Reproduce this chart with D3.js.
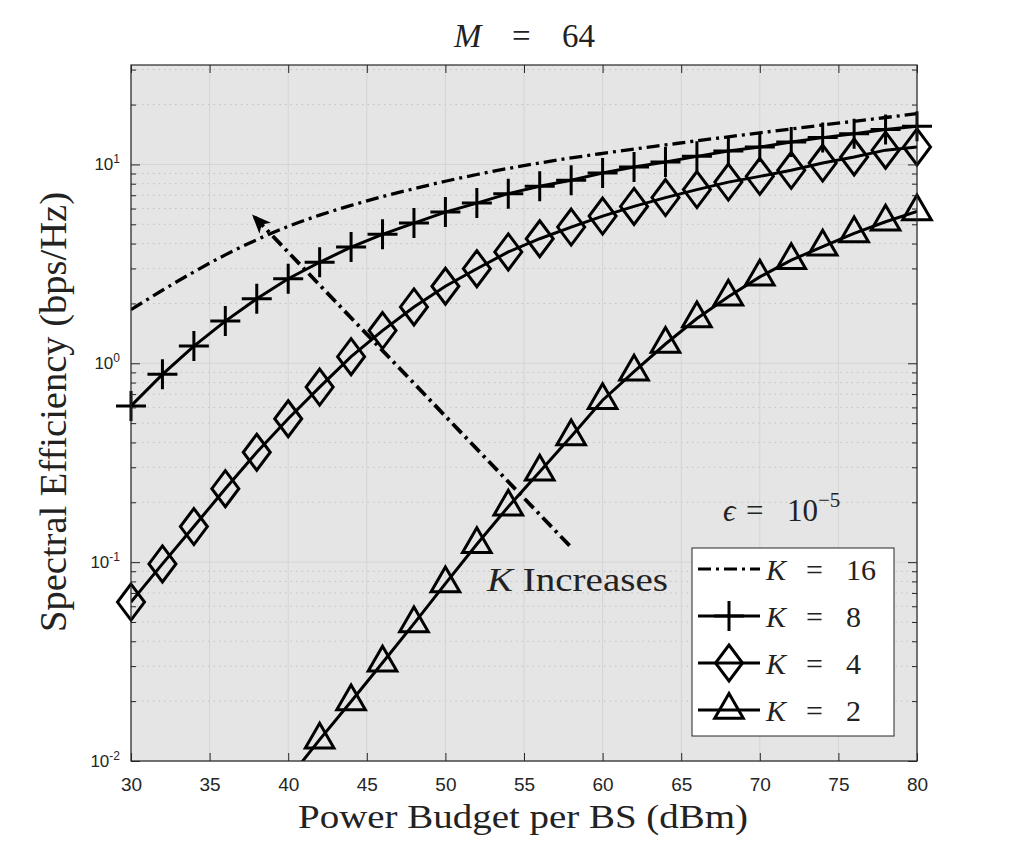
<html>
<head>
    <script src="https://cdn.jsdelivr.net/npm/d3@7"></script>
    <style>
        body { margin: 0; background: white; }
        svg { display: block; }
        .tick text { font-family: "Liberation Sans", Arial, sans-serif; fill: #262626; }
        .serif { font-family: "Liberation Serif", "Times New Roman", serif; fill: #222; }
    </style>
</head>
<body>
<svg id="chart"></svg>
<script>
    // values
    let powerDbm = [30, 32, 34, 36, 38, 40, 42, 44, 46, 48, 50, 52, 54, 56, 58, 60, 62, 64, 66, 68, 70, 72, 74, 76, 78, 80];
    let k16 = [1.86, 2.33, 2.88, 3.51, 4.18, 4.88, 5.56, 6.22, 6.89, 7.55, 8.23, 8.9, 9.55, 10.17, 10.78, 11.36, 11.94, 12.53, 13.15, 13.77, 14.42, 15.07, 15.78, 16.48, 17.22, 18.0];
    let k8 = [0.61, 0.88, 1.22, 1.63, 2.11, 2.66, 3.22, 3.84, 4.45, 5.07, 5.76, 6.39, 7.13, 7.76, 8.32, 9.05, 9.70, 10.28, 10.98, 11.67, 12.23, 12.97, 13.64, 14.28, 14.97, 15.55];
    let k4 = [0.063, 0.098, 0.151, 0.234, 0.357, 0.526, 0.759, 1.08, 1.46, 1.92, 2.44, 2.99, 3.63, 4.23, 4.84, 5.5, 6.15, 6.81, 7.47, 8.15, 8.71, 9.34, 10.16, 10.9, 11.8, 12.24];
    let powerDbmK2 = [40, 42, 44, 46, 48, 50, 52, 54, 56, 58, 60, 62, 64, 66, 68, 70, 72, 74, 76, 78, 80];
    let k2 = [0.0081, 0.0128, 0.0199, 0.0312, 0.0491, 0.078, 0.123, 0.19, 0.285, 0.428, 0.652, 0.907, 1.25, 1.68, 2.16, 2.72, 3.3, 3.86, 4.5, 5.15, 5.8];

    let xTicks = [30, 35, 40, 45, 50, 55, 60, 65, 70, 75, 80];
    let yDecades = [-2, -1, 0, 1];
    let legendLabels = ["16", "8", "4", "2"];
    // arrow annotation: tail then tip, in data units
    let arrowPts = [[57.9, 0.121], [37.7, 5.6]];

    let config = {
        width: 1015, height: 855,
        margin: { left: 131, right: 98, top: 65, bottom: 94 }
    };
    config.bodyWidth = config.width - config.margin.left - config.margin.right;
    config.bodyHeight = config.height - config.margin.top - config.margin.bottom;

    let svg = d3.select("#chart").attr("width", config.width).attr("height", config.height);
    svg.append("rect").attr("width", config.width).attr("height", config.height).attr("fill", "white");

    let x = d3.scaleLinear().domain([30, 80]).range([0, config.bodyWidth]);
    let y = d3.scaleLog().domain([0.01, Math.pow(10, 1.5)]).range([config.bodyHeight, 0]);

    let g = svg.append("g").attr("transform", `translate(${config.margin.left},${config.margin.top})`);

    g.append("rect").attr("width", config.bodyWidth).attr("height", config.bodyHeight).attr("fill", "#e5e5e5");

    // grid
    let minorVals = [];
    yDecades.forEach(d => {
        for (let m = 2; m <= 9; m++) {
            let v = m * Math.pow(10, d);
            if (v <= Math.pow(10, 1.5)) minorVals.push(v);
        }
    });
    g.selectAll(".gminor").data(minorVals).enter().append("line")
        .attr("x1", 0).attr("x2", config.bodyWidth)
        .attr("y1", d => y(d)).attr("y2", d => y(d))
        .attr("stroke", "#c2c2c2").attr("stroke-width", 1).attr("stroke-dasharray", "1.5,4");
    g.selectAll(".gmajy").data(yDecades).enter().append("line")
        .attr("x1", 0).attr("x2", config.bodyWidth)
        .attr("y1", d => y(Math.pow(10, d))).attr("y2", d => y(Math.pow(10, d)))
        .attr("stroke", "#d4d4d4").attr("stroke-width", 1);
    g.selectAll(".gmajx").data(xTicks).enter().append("line")
        .attr("y1", 0).attr("y2", config.bodyHeight)
        .attr("x1", d => x(d)).attr("x2", d => x(d))
        .attr("stroke", "#d4d4d4").attr("stroke-width", 1);

    // clip for lines
    svg.append("defs").append("clipPath").attr("id", "plotClip")
        .append("rect").attr("width", config.bodyWidth).attr("height", config.bodyHeight);

    let line = d3.line().x(d => x(d[0])).y(d => y(d[1]));
    let curveLine = d3.line().x(d => x(d[0])).y(d => y(d[1])).curve(d3.curveMonotoneX);

    let series = [
        { xs: powerDbm, ys: k16, marker: null, dash: "13,5,3,5" },
        { xs: powerDbm, ys: k8, marker: "plus", dash: null },
        { xs: powerDbm, ys: k4, marker: "diamond", dash: null },
        { xs: powerDbmK2, ys: k2, marker: "triangle", dash: null }
    ];

    function markerPath(type) {
        if (type === "plus") return "M-15,0H15M0,-15V15";
        if (type === "diamond") return "M0,-18L13.5,0L0,18L-13.5,0Z";
        if (type === "triangle") return "M0,-16.5L14.3,8.25L-14.3,8.25Z";
        return "";
    }

    let lines = g.append("g").attr("clip-path", "url(#plotClip)");
    series.forEach(s => {
        let pts = s.xs.map((v, i) => [v, s.ys[i]]);
        lines.append("path")
            .attr("d", (s.marker ? line : curveLine)(pts))
            .attr("fill", "none").attr("stroke", "black").attr("stroke-width", s.marker ? 3 : 3.3)
            .attr("stroke-dasharray", s.dash);
    });

    // arrow
    lines.append("path")
        .attr("d", line(arrowPts))
        .attr("fill", "none").attr("stroke", "black").attr("stroke-width", 3.8)
        .attr("stroke-dasharray", "13,5,3,5");
    let tail = [x(arrowPts[0][0]), y(arrowPts[0][1])];
    let tip = [x(arrowPts[1][0]), y(arrowPts[1][1])];
    let ang = Math.atan2(tip[1] - tail[1], tip[0] - tail[0]) * 180 / Math.PI;
    g.append("path")
        .attr("d", "M0,0L-19,-8L-14,0L-19,8Z")
        .attr("transform", `translate(${tip[0]},${tip[1]}) rotate(${ang})`)
        .attr("fill", "black");

    // markers
    series.forEach(s => {
        if (!s.marker) return;
        let pts = s.xs.map((v, i) => [v, s.ys[i]]).filter(p => p[1] >= 0.01);
        g.selectAll(null).data(pts).enter().append("path")
            .attr("d", markerPath(s.marker))
            .attr("transform", d => `translate(${x(d[0])},${y(d[1])})`)
            .attr("fill", "none").attr("stroke", "black").attr("stroke-width", 3)
            .attr("stroke-linejoin", "miter");
    });

    // axes
    let axisColor = "#262626";
    let xb = g.append("g").attr("transform", `translate(0,${config.bodyHeight})`)
        .call(d3.axisBottom(x).tickValues(xTicks).tickSize(-8).tickPadding(17).tickFormat(d3.format("d")));
    xb.selectAll("text").attr("font-size", 19).attr("fill", axisColor);
    let xt = g.append("g").call(d3.axisTop(x).tickValues(xTicks).tickSize(-8).tickFormat(""));
    let yl = g.append("g").call(d3.axisLeft(y).tickValues(yDecades.map(d => Math.pow(10, d))).tickSize(-9).tickFormat(""));
    let yr = g.append("g").attr("transform", `translate(${config.bodyWidth},0)`)
        .call(d3.axisRight(y).tickValues(yDecades.map(d => Math.pow(10, d))).tickSize(-9).tickFormat(""));
    let ylm = g.append("g").call(d3.axisLeft(y).tickValues(minorVals).tickSize(-5).tickFormat(""));
    let yrm = g.append("g").attr("transform", `translate(${config.bodyWidth},0)`)
        .call(d3.axisRight(y).tickValues(minorVals).tickSize(-5).tickFormat(""));
    [xb, xt, yl, yr, ylm, yrm].forEach(a => {
        a.select(".domain").remove();
        a.selectAll("line").attr("stroke", axisColor).attr("stroke-width", 1);
    });
    g.append("rect").attr("width", config.bodyWidth).attr("height", config.bodyHeight)
        .attr("fill", "none").attr("stroke", axisColor).attr("stroke-width", 1.2);

    // y tick labels 10^n
    let ylab = g.selectAll(".ylab").data(yDecades).enter().append("text")
        .attr("x", -11).attr("y", d => y(Math.pow(10, d)) + 6)
        .attr("text-anchor", "end")
        .style("font-family", '"Liberation Sans", Arial, sans-serif')
        .attr("font-size", 17).attr("fill", axisColor);
    ylab.append("tspan").text("10");
    ylab.append("tspan").attr("dy", -7).attr("font-size", 12).text(d => d);

    // title and axis labels
    let title = svg.append("text").attr("class", "serif").attr("y", 47).attr("font-size", 33);
    title.append("tspan").attr("x", 454).attr("font-style", "italic").text("M");
    title.append("tspan").attr("x", 512).text("=");
    title.append("tspan").attr("x", 562).text("64");

    svg.append("text").attr("class", "serif").attr("x", 523).attr("y", 828)
        .attr("text-anchor", "middle").attr("font-size", 34)
        .attr("textLength", 450).attr("lengthAdjust", "spacingAndGlyphs")
        .text("Power Budget per BS (dBm)");
    svg.append("text").attr("class", "serif")
        .attr("transform", "translate(66,412) rotate(-90)")
        .attr("text-anchor", "middle").attr("font-size", 37)
        .attr("textLength", 440).attr("lengthAdjust", "spacingAndGlyphs")
        .text("Spectral Efficiency (bps/Hz)");

    // annotations
    let kInc = svg.append("text").attr("class", "serif").attr("x", 487).attr("y", 591).attr("font-size", 33)
        .attr("textLength", 181).attr("lengthAdjust", "spacingAndGlyphs");
    kInc.append("tspan").attr("font-style", "italic").text("K");
    kInc.append("tspan").text(" Increases");

    let eps = svg.append("text").attr("class", "serif").attr("y", 521).attr("font-size", 31);
    eps.append("tspan").attr("x", 723).attr("font-style", "italic").text("\u03F5");
    eps.append("tspan").attr("x", 746).text("=");
    eps.append("tspan").attr("x", 787).text("10");
    eps.append("tspan").attr("dy", -14).attr("font-size", 21).text("\u22125");

    // legend
    let lg = svg.append("g").attr("transform", "translate(692,548)");
    lg.append("rect").attr("width", 202).attr("height", 188)
        .attr("fill", "white").attr("stroke", "#262626").attr("stroke-width", 1);
    series.forEach((s, i) => {
        let cy = 21 + i * 47;
        let row = lg.append("g").attr("transform", `translate(0,${cy})`);
        row.append("line").attr("x1", 6).attr("x2", 68).attr("y1", 0).attr("y2", 0)
            .attr("stroke", "black").attr("stroke-width", 3).attr("stroke-dasharray", s.dash);
        if (s.marker) {
            row.append("path").attr("d", markerPath(s.marker))
                .attr("transform", "translate(37,0)")
                .attr("fill", "none").attr("stroke", "black").attr("stroke-width", 3);
        }
        let t = row.append("text").attr("class", "serif").attr("y", 11).attr("font-size", 30);
        t.append("tspan").attr("x", 74).attr("font-style", "italic").text("K");
        t.append("tspan").attr("x", 114).text("=");
        t.append("tspan").attr("x", 154).text(legendLabels[i]);
    });
</script>
</body>
</html>
